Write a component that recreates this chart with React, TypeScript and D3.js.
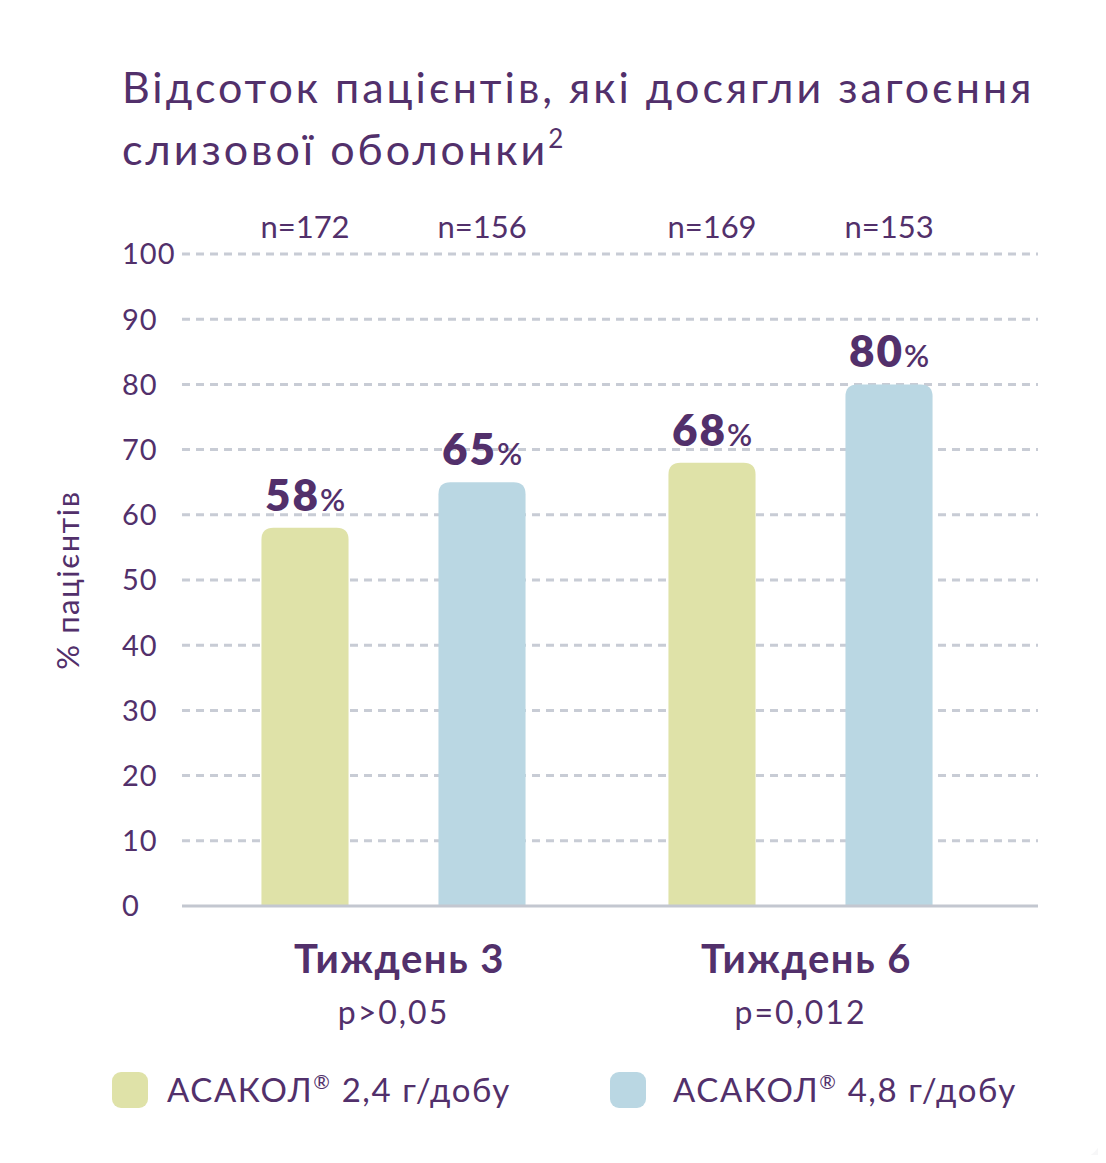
import React, { useRef, useEffect } from 'react';
import * as d3 from 'd3';

const groups = ['Тиждень 3', 'Тиждень 6'];
const pValues = ['p>0,05', 'p=0,012'];
const series = ['АСАКОЛ® 2,4 г/добу', 'АСАКОЛ® 4,8 г/добу'];
const seriesColors = ['#dfe2a8', '#bad7e3'];
const values = [
  [58, 65],
  [68, 80],
];
const counts = [
  [172, 156],
  [169, 153],
];
const yTicks = [0, 10, 20, 30, 40, 50, 60, 70, 80, 90, 100];

const W = 1106;
const H = 1163;
const PURPLE = '#52306b';
const FONT = "Lato, 'Noto Sans', sans-serif";

const App = () => {
  const svgRef = useRef<SVGSVGElement>(null);

  useEffect(() => {
    if (!svgRef.current) return;
    const svg = d3.select(svgRef.current);
    svg.selectAll('*').remove();

    svg.append('rect').attr('width', W).attr('height', H).attr('fill', '#f7f7f8');
    svg.append('rect').attr('x', -40).attr('y', -40).attr('width', W + 40 - 2).attr('height', H + 40 - 2)
      .attr('rx', 32).attr('fill', '#ffffff');

    // title
    const title = svg.append('text')
      .attr('font-family', FONT).attr('font-size', 43).attr('letter-spacing', 3).attr('fill', PURPLE);
    title.append('tspan').attr('x', 122).attr('y', 103).text('Відсоток пацієнтів, які досягли загоєння');
    title.append('tspan').attr('x', 122).attr('y', 165).text('слизової оболонки');
    title.append('tspan').attr('dy', -17).attr('font-size', 26).attr('letter-spacing', 0).text('2');

    const left = 182, right = 1038;
    const y = d3.scaleLinear().domain([0, 100]).range([906, 254]);
    const x0 = d3.scaleBand<string>().domain(groups).range([190, 1004]);
    const x1 = d3.scaleBand<string>().domain(series).range([0, x0.bandwidth()])
      .paddingInner(0.508).paddingOuter(0.4036);

    // grid
    svg.append('g').selectAll('line').data(yTicks.filter(t => t > 0)).join('line')
      .attr('x1', left).attr('x2', right)
      .attr('y1', d => y(d)).attr('y2', d => y(d))
      .attr('stroke', '#c8ccd5').attr('stroke-width', 3).attr('stroke-dasharray', '8 6');

    // y tick labels
    svg.append('g').selectAll('text').data(yTicks).join('text')
      .attr('x', 122).attr('y', d => y(d)).attr('dy', '0.36em')
      .attr('font-family', FONT).attr('font-size', 29).attr('letter-spacing', 1).attr('fill', PURPLE)
      .text(d => d);

    // y axis title
    svg.append('text')
      .attr('transform', `translate(79,${y(50)}) rotate(-90)`)
      .attr('text-anchor', 'middle')
      .attr('font-family', FONT).attr('font-size', 31).attr('letter-spacing', 1.5).attr('fill', PURPLE)
      .text('% пацієнтів');

    const rounded = (x: number, yTop: number, w: number, h: number, r: number) =>
      `M${x},${yTop + h}V${yTop + r}Q${x},${yTop} ${x + r},${yTop}H${x + w - r}Q${x + w},${yTop} ${x + w},${yTop + r}V${yTop + h}Z`;

    groups.forEach((g, gi) => {
      const gx = x0(g)!;
      series.forEach((s, si) => {
        const v = values[gi][si];
        const bx = gx + x1(s)!;
        const bw = x1.bandwidth();
        svg.append('path')
          .attr('d', rounded(bx, y(v), bw, y(0) - y(v), 12))
          .attr('fill', seriesColors[si]);
        const lbl = svg.append('text')
          .attr('x', bx + bw / 2).attr('y', y(v) - 17)
          .attr('text-anchor', 'middle')
          .attr('font-family', FONT).attr('fill', PURPLE);
        lbl.append('tspan').attr('font-size', 44).attr('font-weight', 800).attr('letter-spacing', 2).text(v);
        lbl.append('tspan').attr('font-size', 31).attr('font-weight', 600).text('%');

        svg.append('text')
          .attr('x', bx + bw / 2).attr('y', 238)
          .attr('text-anchor', 'middle')
          .attr('font-family', FONT).attr('font-size', 31).attr('fill', PURPLE)
          .text(`n=${counts[gi][si]}`);
      });
      const cx = gx + x0.bandwidth() / 2;
      svg.append('text')
        .attr('x', cx + 6).attr('y', 973).attr('text-anchor', 'middle')
        .attr('font-family', FONT).attr('font-size', 40).attr('font-weight', 700)
        .attr('letter-spacing', 1.5).attr('fill', PURPLE)
        .text(g);
      svg.append('text')
        .attr('x', cx).attr('y', 1024).attr('text-anchor', 'middle')
        .attr('font-family', FONT).attr('font-size', 32).attr('letter-spacing', 2).attr('fill', PURPLE)
        .text(pValues[gi]);
    });

    // baseline
    svg.append('line')
      .attr('x1', left).attr('x2', right).attr('y1', y(0)).attr('y2', y(0))
      .attr('stroke', '#c3c7d0').attr('stroke-width', 3);

    // legend
    const legendX = [112, 610];
    const legendTextX = [167, 673];
    series.forEach((s, i) => {
      svg.append('rect')
        .attr('x', legendX[i]).attr('y', 1072).attr('width', 36).attr('height', 36).attr('rx', 9)
        .attr('fill', seriesColors[i]);
      const [name, rest] = s.split('®');
      const t = svg.append('text')
        .attr('x', legendTextX[i]).attr('y', 1102)
        .attr('font-family', FONT).attr('font-size', 33).attr('letter-spacing', 1.6).attr('fill', PURPLE);
      t.append('tspan').text(name);
      t.append('tspan').attr('font-size', 20).attr('dy', -13).text('®');
      t.append('tspan').attr('dy', 13).text(rest);
    });
  }, []);

  return <svg ref={svgRef} width={W} height={H} style={{ display: 'block', margin: -8 }} />;
};

export default App;
